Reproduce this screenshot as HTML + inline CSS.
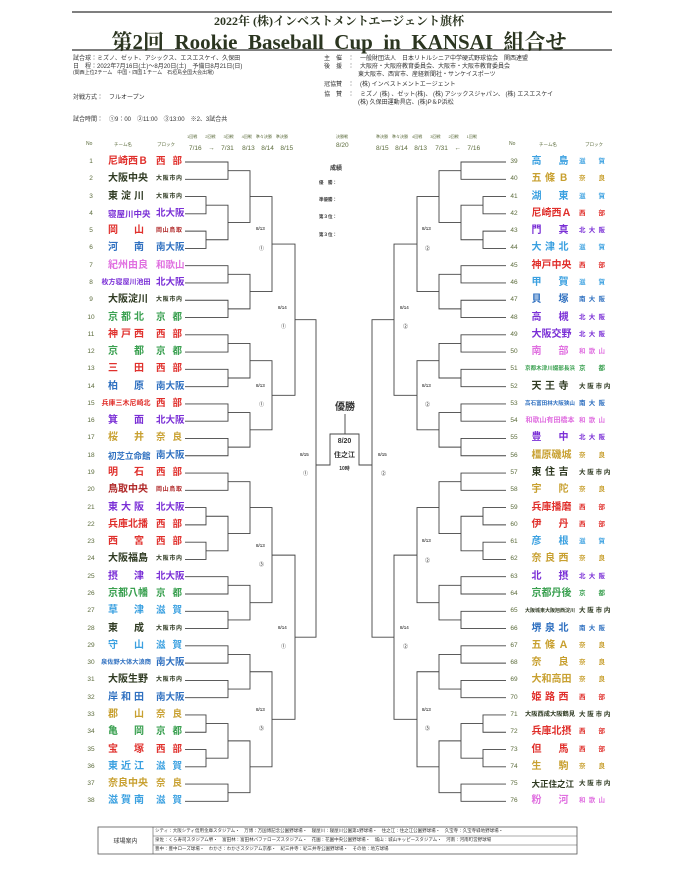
<!DOCTYPE html>
<html><head><meta charset="utf-8">
<style>
body{margin:0;background:#fff;}
#p{position:relative;width:680px;height:882px;overflow:hidden;background:#fff;font-family:"Liberation Sans","Noto Sans CJK JP",sans-serif;color:#333;}
.a{position:absolute;white-space:nowrap;}
.t{position:absolute;white-space:nowrap;line-height:12px;height:12px;font-weight:bold;}
.j{text-align:justify;text-align-last:justify;}
.s{font-size:6px;color:#333;}
.g{color:#5a6a3a;}
.W{color:#e0302c}.O{color:#2f3a22}.N{color:#7a2fd6}.S{color:#2f70c0}.K{color:#e070e0}.Q{color:#3aa050}.G{color:#3aa0e0}.R{color:#c8a030}.T{color:#b02828}
svg{position:absolute;left:0;top:0;}
</style></head><body><div id="p">
<svg width="680" height="882" id="sv">
<line x1="72" y1="12" x2="612" y2="12" stroke="#333" stroke-width="1.2"/>
<line x1="72" y1="50" x2="612" y2="50" stroke="#333" stroke-width="1.2"/>
<g id="br" stroke="#444" stroke-width="0.9" fill="none"></g>
<path d="M316 465H330V434H359V465H372M345 414V434" stroke="#444" stroke-width="0.9" fill="none"/>
<rect x="98" y="827" width="479" height="27" fill="none" stroke="#555" stroke-width="0.8"/>
<line x1="153" y1="827" x2="153" y2="854" stroke="#555" stroke-width="0.6"/>
<line x1="153" y1="836" x2="577" y2="836" stroke="#555" stroke-width="0.5"/>
<line x1="153" y1="845" x2="577" y2="845" stroke="#555" stroke-width="0.5"/>
</svg>
<div class="a" style="left:0;width:678px;top:12px;text-align:center;font-size:12px;font-weight:bold;color:#2b3520;font-family:'Liberation Serif','Noto Serif CJK SC',serif;">2022年 (株)インベストメントエージェント旗杯</div>
<div class="a" style="left:0;width:678px;top:26px;text-align:center;font-size:21px;font-weight:bold;color:#2b3520;font-family:'Liberation Serif','Noto Serif CJK SC',serif;">第2回&nbsp; Rookie&nbsp; Baseball&nbsp; Cup&nbsp; in&nbsp; KANSAI&nbsp; 組合せ</div>
<div class="a s" style="left:73px;top:53px;">試合球：ミズノ、ゼット、アシックス、エスエスケイ、久保田</div>
<div class="a s" style="left:73px;top:61px;">日　程：2022年7月16日(土)～8月20日(土)　予備日8月21日(日)</div>
<div class="a s" style="left:73px;top:69px;font-size:5px;">(関西上位2チーム　中国・四国１チーム　石垣島全国大会出場)</div>
<div class="a s" style="left:73px;top:92px;">対戦方式：　フルオープン</div>
<div class="a s" style="left:73px;top:114px;">試合時間：　①9：00　②11:00　③13:00　※2、3試合共</div>
<div class="a s" style="left:324px;top:53px;">主　催　：　一般財団法人　日本リトルシニア中学硬式野球協会　関西連盟</div>
<div class="a s" style="left:324px;top:61px;">後　援　：　大阪府・大阪府教育委員会、大阪市・大阪市教育委員会</div>
<div class="a s" style="left:358px;top:69px;">東大阪市、西宮市、産経新聞社・サンケイスポーツ</div>
<div class="a s" style="left:324px;top:79px;">冠協賛　：　(株) インベストメントエージェント</div>
<div class="a s" style="left:324px;top:89px;">協　賛　：　ミズノ (株) 、ゼット(株)、 (株) アシックスジャパン、 (株) エスエスケイ</div>
<div class="a s" style="left:358px;top:97px;">(株) 久保田運動具店、(株)P＆P浜松</div>
<div class="a" style="left:330px;top:163px;font-size:6px;font-weight:bold;">成績</div>
<div class="a" style="left:319px;top:180px;font-size:4.5px;font-weight:bold;">優　勝：</div>
<div class="a" style="left:319px;top:197px;font-size:4.5px;font-weight:bold;">準優勝：</div>
<div class="a" style="left:319px;top:214px;font-size:4.5px;font-weight:bold;">第３位：</div>
<div class="a" style="left:319px;top:232px;font-size:4.5px;font-weight:bold;">第３位：</div>
<div class="a" style="left:330px;top:398px;font-size:10px;font-weight:bold;width:30px;text-align:center;">優勝</div>
<div class="a" style="left:330px;top:438px;font-size:7px;font-weight:bold;width:29px;text-align:center;">8/20</div>
<div class="a" style="left:330px;top:450px;font-size:7px;font-weight:bold;width:29px;text-align:center;">住之江</div>
<div class="a" style="left:330px;top:465px;font-size:5px;font-weight:bold;width:29px;text-align:center;">10時</div>
<div class="a" style="left:98px;top:836px;width:55px;text-align:center;font-size:6px;">球場案内</div>
<div class="a" style="left:155px;top:828px;font-size:4.5px;">シティ：大阪シティ信用金庫スタジアム・　万博：万国博記念公園野球場・　寝屋川：寝屋川公園第1野球場・　住之江：住之江公園野球場・　久宝寺：久宝寺緑地野球場・</div>
<div class="a" style="left:155px;top:837px;font-size:4.5px;">泉佐：くら寿司スタジアム堺・　富田林：富田林バファローズスタジアム・　花園：花園中央公園野球場・　城山：城山キッピースタジアム・　河南：河南町営野球場</div>
<div class="a" style="left:155px;top:846px;font-size:4.5px;">豊中：豊中ローズ球場・　わかさ：わかさスタジアム京都・　紀三井寺：紀三井寺公園野球場・　その他：地方球場</div>
</div>
<script>
var Y=function(i){return 162+((i-1)%38)*17.28;};
var g=document.getElementById('br'),d='';
function L(i){return {x:i<=38?185:506,y:Y(i)};}
function M(x,a,b){if(typeof a=='number')a=L(a);if(typeof b=='number')b=L(b);
d+='M'+a.x+' '+a.y+'H'+x+'V'+b.y+'H'+b.x;return {x:x,y:(a.y+b.y)/2};}
function tree(o,X){var x=function(k){return X[k];};
var A=M(x(3),M(x(2),M(x(1),o+1,o+2),M(x(1),M(x(0),o+3,o+4),M(x(0),o+5,o+6))),M(x(2),M(x(1),o+7,o+8),M(x(1),o+9,o+10)));
var B=M(x(3),M(x(2),M(x(1),o+11,o+12),M(x(1),o+13,o+14)),M(x(2),M(x(1),o+15,o+16),M(x(1),o+17,o+18)));
var C=M(x(3),M(x(2),M(x(1),o+19,o+20),M(x(1),M(x(0),o+21,o+22),M(x(0),o+23,o+24))),M(x(2),M(x(1),o+25,o+26),M(x(1),o+27,o+28)));
var D=M(x(3),M(x(2),M(x(1),o+29,o+30),M(x(1),o+31,o+32)),M(x(2),M(x(1),M(x(0),o+33,o+34),M(x(0),o+35,o+36)),M(x(1),o+37,o+38)));
M(x(5),M(x(4),A,B),M(x(4),C,D));}
tree(0,[206,228,250,272,295,316]);
tree(38,[483,461,439,417,394,372]);
var p=document.createElementNS('http://www.w3.org/2000/svg','path');p.setAttribute('d',d);g.appendChild(p);
</script>
<div style="position:absolute;left:0;top:0;width:680px;height:882px;pointer-events:none;font-family:'Liberation Sans','Noto Sans CJK JP',sans-serif;">
<div class="a g" style="left:86px;top:141px;font-size:5px;">No</div>
<div class="a g" style="left:114px;top:142px;font-size:4.5px;">チーム名</div>
<div class="a g" style="left:157px;top:142px;font-size:4.5px;">ブロック</div>
<div class="a g" style="left:187px;top:134px;font-size:4px;">1回戦　　2回戦　　3回戦　　4回戦　準々決勝　準決勝</div>
<div class="a g" style="left:189px;top:142px;font-size:6.5px;">7/16　→　7/31　 8/13　8/14　8/15</div>
<div class="a g" style="left:336px;top:134px;font-size:4px;">決勝戦</div>
<div class="a g" style="left:336px;top:142px;font-size:6.5px;">8/20</div>
<div class="a g" style="left:376px;top:134px;font-size:4px;">準決勝　準々決勝　4回戦　　3回戦　　2回戦　　1回戦</div>
<div class="a g" style="left:376px;top:142px;font-size:6.5px;">8/15　8/14　8/13　 7/31　←　7/16</div>
<div class="a g" style="left:509px;top:141px;font-size:5px;">No</div>
<div class="a g" style="left:539px;top:142px;font-size:4.5px;">チーム名</div>
<div class="a g" style="left:585px;top:142px;font-size:4.5px;">ブロック</div>

<div class="a" style="left:256px;top:226px;font-size:4.5px;">8/13</div><div class="a" style="left:259px;top:245px;font-size:5px;">①</div>
<div class="a" style="left:256px;top:383px;font-size:4.5px;">8/13</div><div class="a" style="left:259px;top:401px;font-size:5px;">①</div>
<div class="a" style="left:278px;top:305px;font-size:4.5px;">8/14</div><div class="a" style="left:281px;top:323px;font-size:5px;">①</div>
<div class="a" style="left:256px;top:543px;font-size:4.5px;">8/13</div><div class="a" style="left:259px;top:561px;font-size:5px;">③</div>
<div class="a" style="left:256px;top:707px;font-size:4.5px;">8/13</div><div class="a" style="left:259px;top:725px;font-size:5px;">③</div>
<div class="a" style="left:278px;top:625px;font-size:4.5px;">8/14</div><div class="a" style="left:281px;top:643px;font-size:5px;">①</div>
<div class="a" style="left:300px;top:452px;font-size:4.5px;">8/15</div><div class="a" style="left:303px;top:470px;font-size:5px;">①</div>
<div class="a" style="left:422px;top:226px;font-size:4.5px;">8/13</div><div class="a" style="left:425px;top:245px;font-size:5px;">②</div>
<div class="a" style="left:422px;top:383px;font-size:4.5px;">8/13</div><div class="a" style="left:425px;top:401px;font-size:5px;">②</div>
<div class="a" style="left:400px;top:305px;font-size:4.5px;">8/14</div><div class="a" style="left:403px;top:323px;font-size:5px;">②</div>
<div class="a" style="left:422px;top:538px;font-size:4.5px;">8/13</div><div class="a" style="left:425px;top:557px;font-size:5px;">②</div>
<div class="a" style="left:422px;top:707px;font-size:4.5px;">8/13</div><div class="a" style="left:425px;top:725px;font-size:5px;">③</div>
<div class="a" style="left:400px;top:625px;font-size:4.5px;">8/14</div><div class="a" style="left:403px;top:643px;font-size:5px;">②</div>
<div class="a" style="left:378px;top:452px;font-size:4.5px;">8/15</div><div class="a" style="left:381px;top:470px;font-size:5px;">②</div>
</div>
<div id="T" style="position:absolute;left:0;top:0;font-family:'Liberation Sans','Noto Sans CJK JP',sans-serif;">
</div>
<script>
var L1=[["尼崎西Ｂ","W","西部","W"],["大阪中央","O","大阪市内","O"],["東淀川","O","大阪市内","O"],["寝屋川中央","N","北大阪","N"],["岡山","W","岡山鳥取","T"],["河南","S","南大阪","S"],["紀州由良","K","和歌山","K"],["枚方寝屋川池田","N","北大阪","N"],["大阪淀川","O","大阪市内","O"],["京都北","Q","京都","Q"],["神戸西","W","西部","W"],["京都","Q","京都","Q"],["三田","W","西部","W"],["柏原","S","南大阪","S"],["兵庫三木尼崎北","W","西部","W"],["箕面","N","北大阪","N"],["桜井","R","奈良","R"],["初芝立命館","S","南大阪","S"],["明石","W","西部","W"],["鳥取中央","T","岡山鳥取","T"],["東大阪","N","北大阪","N"],["兵庫北播","W","西部","W"],["西宮","W","西部","W"],["大阪福島","O","大阪市内","O"],["摂津","N","北大阪","N"],["京都八幡","Q","京都","Q"],["草津","G","滋賀","G"],["東成","O","大阪市内","O"],["守山","G","滋賀","G"],["泉佐野大体大浪商","S","南大阪","S"],["大阪生野","O","大阪市内","O"],["岸和田","S","南大阪","S"],["郡山","R","奈良","R"],["亀岡","Q","京都","Q"],["宝塚","W","西部","W"],["東近江","G","滋賀","G"],["奈良中央","R","奈良","R"],["滋賀南","G","滋賀","G"]];
var R1=[["高島","G","滋賀","G"],["五條Ｂ","R","奈良","R"],["湖東","G","滋賀","G"],["尼崎西Ａ","W","西部","W"],["門真","N","北大阪","N"],["大津北","G","滋賀","G"],["神戸中央","W","西部","W"],["甲賀","G","滋賀","G"],["貝塚","S","南大阪","S"],["高槻","N","北大阪","N"],["大阪交野","N","北大阪","N"],["南部","K","和歌山","K"],["京都木津川綴部長浜","Q","京都","Q"],["天王寺","O","大阪市内","O"],["高石富田林大阪狭山","S","南大阪","S"],["和歌山有田橋本","K","和歌山","K"],["豊中","N","北大阪","N"],["橿原磯城","R","奈良","R"],["東住吉","O","大阪市内","O"],["宇陀","R","奈良","R"],["兵庫播磨","W","西部","W"],["伊丹","W","西部","W"],["彦根","G","滋賀","G"],["奈良西","R","奈良","R"],["北摂","N","北大阪","N"],["京都丹後","Q","京都","Q"],["大阪城東大阪旭西淀川","O","大阪市内","O"],["堺泉北","S","南大阪","S"],["五條Ａ","R","奈良","R"],["奈良","R","奈良","R"],["大和高田","R","奈良","R"],["姫路西","W","西部","W"],["大阪西成大阪鶴見","O","大阪市内","O"],["兵庫北摂","W","西部","W"],["但馬","W","西部","W"],["生駒","R","奈良","R"],["大正住之江","O","大阪市内","O"],["粉河","K","和歌山","K"]];
var h='';
function nm(n,c,cx,y,w){var len=n.length;
 if(len<=5){return '<div class="t j '+c+'" style="left:'+(cx-w/2)+'px;top:'+(y-6)+'px;width:'+w+'px;font-size:'+(len==5?8.5:10)+'px;">'+n+'</div>';}
 var fs=Math.min(7,50/len);return '<div class="t '+c+'" style="left:'+(cx-30)+'px;top:'+(y-6)+'px;width:60px;text-align:center;font-size:'+fs+'px;">'+n+'</div>';}
for(var i=0;i<38;i++){var y=162+i*17.28,t=L1[i];
 h+='<div class="t g" style="left:84px;top:'+(y-6)+'px;width:14px;text-align:center;font-size:6.5px;font-weight:normal;">'+(i+1)+'</div>';
 h+=nm(t[0],t[1],126,y,36);
 var bs=t[2].length==4?6:9.5;
 h+='<div class="t j '+t[3]+'" style="left:156px;top:'+(y-6)+'px;width:26px;font-size:'+bs+'px;">'+t[2]+'</div>';
 t=R1[i];
 h+='<div class="t g" style="left:507px;top:'+(y-6)+'px;width:14px;text-align:center;font-size:6.5px;font-weight:normal;">'+(i+39)+'</div>';
 h+=nm(t[0],t[1],550,y,37);
 h+='<div class="t j '+t[3]+'" style="left:579px;top:'+(y-6)+'px;width:26px;font-size:6.5px;">'+t[2].split('').join(' ')+'</div>';
}
document.getElementById('T').innerHTML=h;
</script>
</body></html>
